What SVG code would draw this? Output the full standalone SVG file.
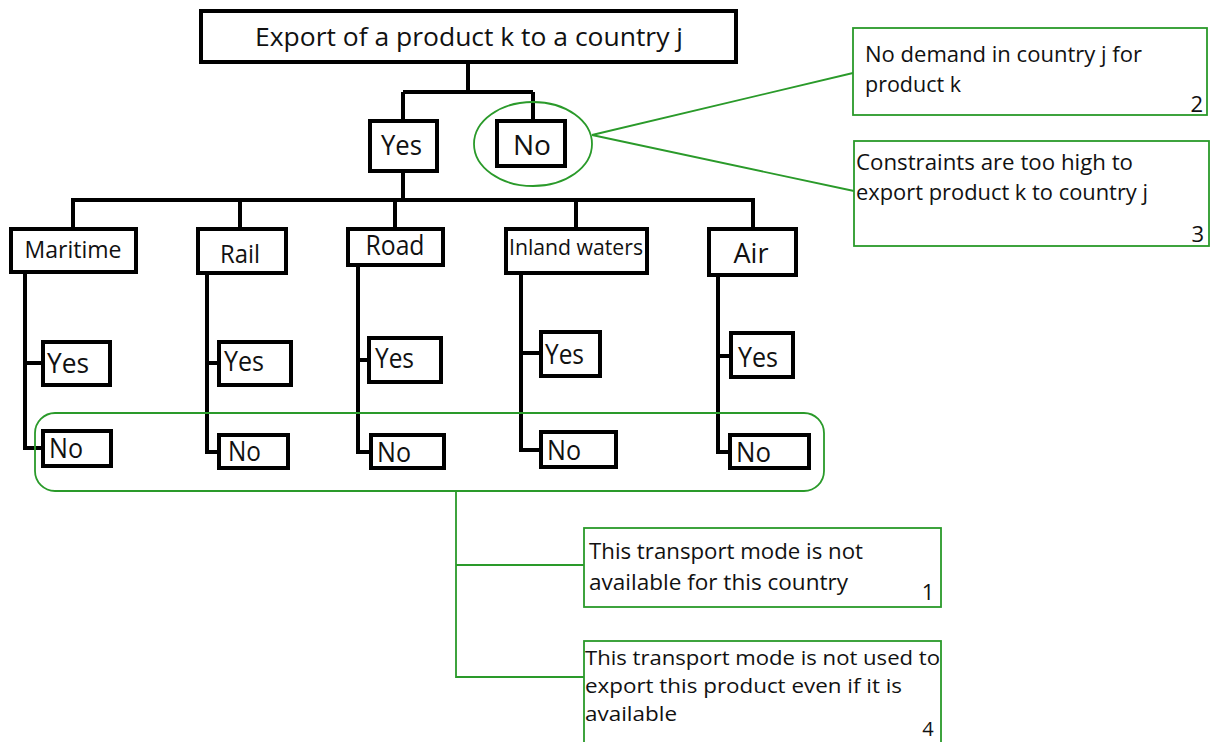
<svg xmlns="http://www.w3.org/2000/svg" width="1212" height="742" viewBox="0 0 1212 742">
<style>
.bx{fill:#fff;stroke:#000;stroke-width:4}
.gb{fill:#fff;stroke:#2a9a2a;stroke-width:1.8}
.gl{fill:none;stroke:#2a9a2a;stroke-width:1.8}
.bl{fill:none;stroke:#000;stroke-width:4}
text{font-family:"Open Sans","Noto Sans",sans-serif;fill:#111}
.t{font-size:26px;text-anchor:middle}
.yn{font-size:27px}
.m{font-size:23px;text-anchor:middle}
.n{font-size:22px}
.n4{font-size:20px}
</style>
<rect width="1212" height="742" fill="#fff"/>
<g id="connectors">
<path class="bl" d="M468 62V92M403 92H533M403 92V121M533 92V121M403 171V200M71 200H755M73 200V229M240 200V229M395 200V229M576 200V229M753 200V229"/>
<path class="bl" d="M25 272V448H43M25 363H43M207 273V452H219M207 363H219M358 265V452H371M358 360H369M521 273V450H541M521 353H541M718 275V452H730M718 356H731"/>
<path class="gl" d="M592 135L853 73M592 135L854 191"/>
<path class="gl" d="M456 491V678M456 565H584M456 677H584"/>
</g>
<g id="root"><rect class="bx" x="201" y="11" width="535" height="51"/><text class="t" x="469" y="46" textLength="428" lengthAdjust="spacingAndGlyphs">Export of a product k to a country j</text></g>
<g id="yes-top"><rect class="bx" x="370" y="121" width="67" height="50"/><text class="yn" x="381" y="155" textLength="41" lengthAdjust="spacingAndGlyphs">Yes</text></g>
<g id="no-top"><rect class="bx" x="497" y="121" width="68" height="45"/><text class="yn" x="513" y="155" textLength="38" lengthAdjust="spacingAndGlyphs">No</text></g>
<g id="no-ellipse"><ellipse class="gl" cx="533" cy="144" rx="59" ry="42"/></g>
<g id="maritime"><rect class="bx" x="11" y="229" width="125" height="43"/><text class="m" x="73" y="258" textLength="97" lengthAdjust="spacingAndGlyphs">Maritime</text></g>
<g id="rail"><rect class="bx" x="198" y="229" width="88" height="44"/><text class="m" x="240" y="263" style="font-size:26px" textLength="40" lengthAdjust="spacingAndGlyphs">Rail</text></g>
<g id="road"><rect class="bx" x="348" y="229" width="95" height="36"/><text class="m" x="395" y="255" style="font-size:27px" textLength="59" lengthAdjust="spacingAndGlyphs">Road</text></g>
<g id="inland"><rect class="bx" x="506" y="229" width="141" height="44"/><text class="m" x="576" y="255" style="font-size:21px" textLength="134" lengthAdjust="spacingAndGlyphs">Inland waters</text></g>
<g id="air"><rect class="bx" x="709" y="229" width="87" height="46"/><text class="m" x="751" y="263" style="font-size:27px" textLength="35" lengthAdjust="spacingAndGlyphs">Air</text></g>
<g id="maritime-yes"><rect class="bx" x="43" y="342" width="67" height="43"/><text class="yn" x="47" y="373" textLength="42" lengthAdjust="spacingAndGlyphs">Yes</text></g>
<g id="maritime-no"><rect class="bx" x="43" y="431" width="68" height="35"/><text class="yn" x="49" y="458" textLength="34" lengthAdjust="spacingAndGlyphs">No</text></g>
<g id="rail-yes"><rect class="bx" x="219" y="342" width="72" height="43"/><text class="yn" x="224" y="371" textLength="40" lengthAdjust="spacingAndGlyphs">Yes</text></g>
<g id="rail-no"><rect class="bx" x="219" y="435" width="69" height="33"/><text class="yn" x="228" y="461" textLength="33" lengthAdjust="spacingAndGlyphs">No</text></g>
<g id="road-yes"><rect class="bx" x="369" y="338" width="72" height="44"/><text class="yn" x="375" y="368" textLength="39" lengthAdjust="spacingAndGlyphs">Yes</text></g>
<g id="road-no"><rect class="bx" x="371" y="435" width="73" height="33"/><text class="yn" x="377" y="462" textLength="34" lengthAdjust="spacingAndGlyphs">No</text></g>
<g id="inland-yes"><rect class="bx" x="541" y="332" width="59" height="44"/><text class="yn" x="545" y="364" textLength="39" lengthAdjust="spacingAndGlyphs">Yes</text></g>
<g id="inland-no"><rect class="bx" x="541" y="432" width="75" height="35"/><text class="yn" x="547" y="460" textLength="34" lengthAdjust="spacingAndGlyphs">No</text></g>
<g id="air-yes"><rect class="bx" x="731" y="333" width="62" height="44"/><text class="yn" x="738" y="367" textLength="40" lengthAdjust="spacingAndGlyphs">Yes</text></g>
<g id="air-no"><rect class="bx" x="730" y="435" width="79" height="33"/><text class="yn" x="736" y="462" textLength="35" lengthAdjust="spacingAndGlyphs">No</text></g>
<g id="no-group"><rect class="gl" x="35" y="413" width="789" height="78" rx="20"/></g>
<g id="note2"><rect class="gb" x="853" y="28" width="354" height="87"/><text class="n" x="865" y="62" textLength="277" lengthAdjust="spacingAndGlyphs">No demand in country j for</text><text class="n" x="865" y="92" textLength="96" lengthAdjust="spacingAndGlyphs">product k</text><text class="n" x="1203" y="112" text-anchor="end">2</text></g>
<g id="note3"><rect class="gb" x="854" y="141" width="355" height="105"/><text class="n" x="856" y="170" textLength="277" lengthAdjust="spacingAndGlyphs">Constraints are too high to</text><text class="n" x="856" y="200" textLength="292" lengthAdjust="spacingAndGlyphs">export product k to country j</text><text class="n" x="1204" y="242" text-anchor="end">3</text></g>
<g id="note1"><rect class="gb" x="584" y="528" width="357" height="79"/><text class="n" x="589" y="559" textLength="274" lengthAdjust="spacingAndGlyphs">This transport mode is not</text><text class="n" x="589" y="590" textLength="259" lengthAdjust="spacingAndGlyphs">available for this country</text><text class="n" x="928" y="600" text-anchor="middle">1</text></g>
<g id="note4"><rect class="gb" x="584" y="641" width="357" height="110"/><text class="n4" x="585" y="665" textLength="355" lengthAdjust="spacingAndGlyphs">This transport mode is not used to</text><text class="n4" x="585" y="693" textLength="317" lengthAdjust="spacingAndGlyphs">export this product even if it is</text><text class="n4" x="585" y="721" textLength="92" lengthAdjust="spacingAndGlyphs">available</text><text class="n4" x="928" y="736" text-anchor="middle">4</text></g>
</svg>
